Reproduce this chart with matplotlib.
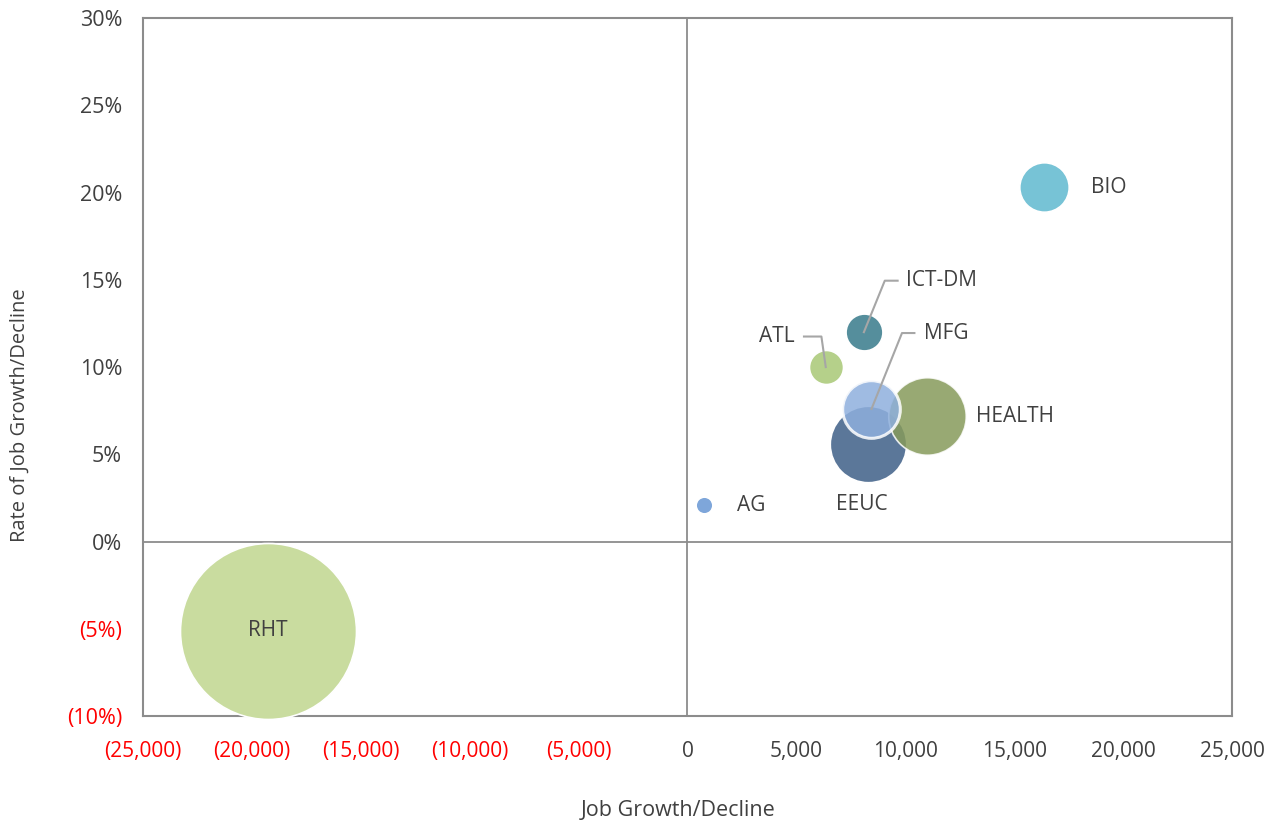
import matplotlib.pyplot as plt
from matplotlib.ticker import FuncFormatter

# sectors: job growth, growth rate, employment (bubble size)
sectors = ["RHT", "AG", "ATL", "ICT-DM", "BIO", "EEUC", "HEALTH", "MFG"]
job_growth = [-19250, 780, 6350, 8100, 16350, 8300, 11000, 8450]
growth_rate = [-0.051, 0.021, 0.100, 0.120, 0.203, 0.056, 0.072, 0.076]
employment = [77400, 700, 2900, 3400, 6100, 14600, 15000, 8300]
colors = ["#C9DC9F", "#7EA6DA", "#B5D08A", "#558E9C", "#77C3D6",
          "#5B7799", "#869A5B", "#8EAFDD"]

x_ticks = list(range(-25000, 25001, 5000))
y_ticks = [-0.10, -0.05, 0, 0.05, 0.10, 0.15, 0.20, 0.25, 0.30]

TEXT = "#404040"
GRAY = "#8C8C8C"
FONT = ["Open Sans", "DejaVu Sans"]


def fmt_x(v, pos):
    if v < 0:
        return "({:,.0f})".format(-v)
    return "{:,.0f}".format(v)


def fmt_y(v, pos):
    if v < -1e-9:
        return "({:.0f}%)".format(-v * 100)
    return "{:.0f}%".format(abs(v) * 100)


fig = plt.figure(figsize=(12.74, 8.23), dpi=100)
ax = fig.add_axes([0.1122, 0.130, 0.8548, 0.848])

# bubble area proportional to employment, largest ~88 px radius
max_r_pt = 88 * 72 / 100
emp_max = max(employment)
sizes = [(2 * max_r_pt) ** 2 * e / emp_max for e in employment]

for i, name in enumerate(sectors):
    lw = 2.2 if name == "MFG" else 1.2
    alpha = 0.85 if name in ("MFG", "HEALTH") else 1.0
    ax.scatter(job_growth[i], growth_rate[i], s=sizes[i], color=colors[i],
               alpha=alpha, edgecolors="white", linewidths=lw, zorder=3 + i,
               clip_on=False)

ax.set_xlim(-25000, 25000)
ax.set_ylim(-0.10, 0.30)
ax.axvline(0, color=GRAY, lw=1.3, zorder=1)
ax.axhline(0, color=GRAY, lw=1.3, zorder=1)

for sp in ax.spines.values():
    sp.set_color(GRAY)
    sp.set_linewidth(1.5)

ax.set_xticks(x_ticks)
ax.set_yticks(y_ticks)
ax.xaxis.set_major_formatter(FuncFormatter(fmt_x))
ax.yaxis.set_major_formatter(FuncFormatter(fmt_y))
ax.tick_params(length=0)
ax.tick_params(axis="x", pad=18)
ax.tick_params(axis="y", pad=15)

for lbl, v in zip(ax.get_xticklabels(), x_ticks):
    lbl.set_family(FONT)
    lbl.set_fontsize(15)
    lbl.set_color("red" if v < 0 else TEXT)
for lbl, v in zip(ax.get_yticklabels(), y_ticks):
    lbl.set_family(FONT)
    lbl.set_fontsize(15.5)
    lbl.set_color("red" if v < 0 else TEXT)

fig.text(678 / 1274, 1 - 810 / 823, "Job Growth/Decline", family=FONT,
         fontsize=15.5, color=TEXT, ha="center", va="center")
fig.text(20 / 1274, 1 - 415 / 823, "Rate of Job Growth/Decline",
         family=FONT, fontsize=14.5, color=TEXT, ha="center", va="center",
         rotation=90)

# data labels
lab_kw = dict(fontsize=15, color=TEXT, family=FONT, zorder=20)
idx = {n: i for i, n in enumerate(sectors)}


def pt(name):
    return job_growth[idx[name]], growth_rate[idx[name]]


x, y = pt("RHT")
ax.text(x, y, "RHT", ha="center", va="center", **lab_kw)
x, y = pt("BIO")
ax.text(x + 2200, y, "BIO", ha="left", va="center", **lab_kw)
x, y = pt("HEALTH")
ax.text(x + 2250, y - 0.0005, "HEALTH", ha="left", va="center", **lab_kw)
x, y = pt("EEUC")
ax.text(x - 300, y - 0.035, "EEUC", ha="center", va="center", **lab_kw)
x, y = pt("AG")
ax.text(x + 1500, y - 0.0005, "AG", ha="left", va="center", **lab_kw)

# labels with leader lines
lead_kw = dict(color="#A6A6A6", lw=1.5, zorder=19)
x, y = pt("ICT-DM")
ax.plot([x, x + 960, x + 1550], [y, y + 0.0295, y + 0.0295], **lead_kw)
ax.text(x + 1930, y + 0.0295, "ICT-DM", ha="left", va="center", **lab_kw)
x, y = pt("MFG")
ax.plot([x, x + 1400, x + 1970], [y, y + 0.0435, y + 0.0435], **lead_kw)
ax.text(x + 2400, y + 0.0435, "MFG", ha="left", va="center", **lab_kw)
x, y = pt("ATL")
ax.plot([x, x - 200, x - 1000], [y, y + 0.0175, y + 0.0175], **lead_kw)
ax.text(x - 1420, y + 0.0175, "ATL", ha="right", va="center", **lab_kw)

fig.savefig("out.png", dpi=100)
